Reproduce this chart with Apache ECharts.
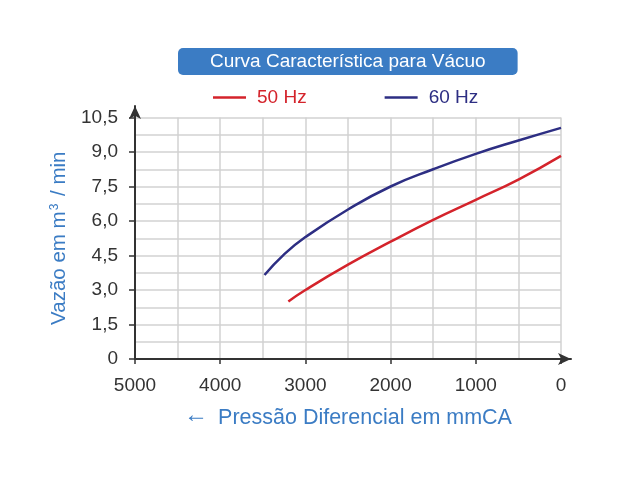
<!DOCTYPE html>
<html>
<head>
<meta charset="UTF-8">
<title>Curva Característica para Vácuo</title>
<script src="https://cdn.jsdelivr.net/npm/echarts@6/dist/echarts.min.js"></script>
<style>
  html, body { margin: 0; padding: 0; background: #fff; }
  #main { width: 640px; height: 480px; }
</style>
</head>
<body>
<div id="main"></div>
<script>
// pressão diferencial (mmCA) x vazão (m3/min)
var hz50 = [
  [3200, 2.5], [3000, 3.0], [2500, 4.1], [2000, 5.1],
  [1500, 6.05], [1000, 6.92], [500, 7.8], [0, 8.83]
];
var hz60 = [
  [3480, 3.65], [3250, 4.55], [3000, 5.3], [2500, 6.5], [2000, 7.5],
  [1500, 8.25], [1000, 8.92], [500, 9.5], [0, 10.05]
];
var xTicks = [0, 1000, 2000, 3000, 4000, 5000];
var yTicks = [0, 1.5, 3, 4.5, 6, 7.5, 9, 10.5];

var red = '#d4232b';
var navy = '#2d2e83';
var azul = '#3b7cc4';
var font = 'Liberation Sans, Arial, sans-serif';

var chart = echarts.init(document.getElementById('main'));

function yLabel(v) {
  var k = v / 1.5;
  if (Math.abs(k - Math.round(k)) > 1e-6) return '';
  return v === 0 ? '0' : v.toFixed(1).replace('.', ',');
}

var option = {
  animation: false,
  textStyle: { fontFamily: font },
  title: {
    text: 'Curva Característica para Vácuo',
    left: 178,
    top: 48,
    padding: [4, 32],
    backgroundColor: azul,
    borderRadius: 5,
    textStyle: { color: '#fff', fontSize: 19, fontWeight: 'normal', fontFamily: font }
  },
  legend: {
    left: 208,
    top: 83,
    icon: 'rect',
    itemWidth: 33,
    itemHeight: 2.5,
    itemGap: 78,
    data: [
      { name: '50 Hz', textStyle: { color: red } },
      { name: '60 Hz', textStyle: { color: navy } }
    ],
    textStyle: { fontSize: 19, fontFamily: font, padding: [0, 0, 0, 6] }
  },
  grid: [
    { left: 135, right: 79, top: 117.5, bottom: 121 },
    { left: 135, right: 69, top: 106, bottom: 121 }
  ],
  xAxis: [
    {
      gridIndex: 0,
      type: 'value',
      inverse: true,
      min: 0,
      max: 5000,
      interval: 500,
      axisLine: { show: false },
      axisTick: { show: false },
      splitLine: { lineStyle: { color: '#d2d2d2', width: 1.5 } },
      axisLabel: {
        margin: 17,
        color: '#333',
        fontSize: 19,
        fontFamily: font,
        formatter: function (v) { return v % 1000 === 0 ? String(v) : ''; }
      },
      name: '{a|←}   {t|Pressão Diferencial em mmCA}',
      nameLocation: 'middle',
      nameGap: 44,
      nameTextStyle: {
        color: azul,
        fontFamily: font,
        rich: {
          a: { color: azul, fontSize: 24, fontWeight: 'bold', fontFamily: font, padding: [0, 0, 6, 0] },
          t: { color: azul, fontSize: 21.5, fontFamily: font }
        }
      }
    },
    {
      // só a linha do eixo com a seta
      gridIndex: 1,
      type: 'value',
      min: 0,
      max: 5117,
      axisLine: {
        lineStyle: { color: '#333', width: 2 },
        symbol: ['none', 'arrow'],
        symbolSize: [9, 13]
      },
      axisTick: { customValues: xTicks, length: 5, lineStyle: { color: '#333', width: 1.5 } },
      axisLabel: { show: false },
      splitLine: { show: false }
    }
  ],
  yAxis: [
    {
      gridIndex: 0,
      type: 'value',
      min: 0,
      max: 10.5,
      interval: 0.75,
      axisLine: { show: false },
      axisTick: { show: false },
      splitLine: { lineStyle: { color: '#d2d2d2', width: 1.5 } },
      axisLabel: {
        margin: 17,
        color: '#333',
        fontSize: 19,
        fontFamily: font,
        formatter: yLabel
      },
      name: '{t|Vazão em m}{s|3}{t| / min}',
      nameLocation: 'middle',
      nameGap: 64,
      nameTextStyle: {
        color: azul,
        fontFamily: font,
        rich: {
          t: { color: azul, fontSize: 20.5, fontFamily: font },
          s: { color: azul, fontSize: 12, fontFamily: font, verticalAlign: 'top', padding: [0, 2, 0, 1] }
        }
      }
    },
    {
      gridIndex: 1,
      type: 'value',
      min: 0,
      max: 11,
      axisLine: {
        lineStyle: { color: '#333', width: 2 },
        symbol: ['none', 'arrow'],
        symbolSize: [9, 13]
      },
      axisTick: { customValues: yTicks, length: 6, lineStyle: { color: '#333', width: 1.5 } },
      axisLabel: { show: false },
      splitLine: { show: false }
    }
  ],
  series: [
    {
      name: '50 Hz',
      type: 'line',
      xAxisIndex: 0,
      yAxisIndex: 0,
      smooth: true,
      symbol: 'none',
      data: hz50,
      lineStyle: { color: red, width: 2.5 },
      itemStyle: { color: red }
    },
    {
      name: '60 Hz',
      type: 'line',
      xAxisIndex: 0,
      yAxisIndex: 0,
      smooth: true,
      symbol: 'none',
      data: hz60,
      lineStyle: { color: navy, width: 2.5 },
      itemStyle: { color: navy }
    }
  ]
};

chart.setOption(option);
</script>
</body>
</html>
